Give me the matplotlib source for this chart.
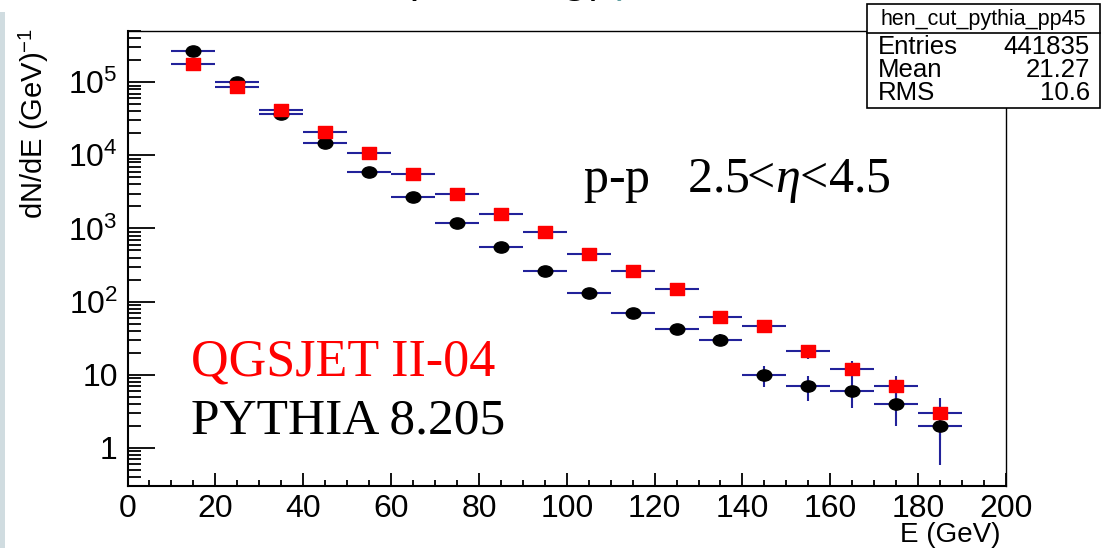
import numpy as np
import matplotlib
matplotlib.use("Agg")
import matplotlib.pyplot as plt
from matplotlib.path import Path
from matplotlib.patches import Rectangle
from matplotlib.ticker import FixedLocator, FixedFormatter, LogLocator, NullFormatter

plt.rcParams["font.family"] = ["Liberation Sans", "DejaVu Sans"]
plt.rcParams["mathtext.fontset"] = "custom"
plt.rcParams["mathtext.rm"] = "Liberation Sans"
plt.rcParams["mathtext.it"] = "Liberation Serif:italic"

# photon energy bins (GeV): centres of 10 GeV wide bins
energy = [15, 25, 35, 45, 55, 65, 75, 85, 95, 105, 115, 125, 135, 145, 155, 165, 175, 185]
bin_half_width = 5

pythia_counts = [2.7e5, 1.02e5, 3.7e4, 1.48e4, 5.9e3, 2.7e3, 1.17e3, 550, 265, 132,
                 69, 42, 30, 10, 7, 6, 4, 2]
qgsjet_counts = [1.78e5, 8.7e4, 4.2e4, 2.1e4, 1.07e4, 5.6e3, 2.95e3, 1.57e3, 890, 443,
                 265, 148, 62, 46, 21, 12, 7, 3]

y_major = [1, 10, 1e2, 1e3, 1e4, 1e5]
y_major_labels = ["1", "10", r"$\mathregular{10^{2}}$", r"$\mathregular{10^{3}}$",
                  r"$\mathregular{10^{4}}$", r"$\mathregular{10^{5}}$"]

W, H = 1103, 548
fig = plt.figure(figsize=(W / 100, H / 100), dpi=100)

# frame in pixel units
left, right, top, bottom = 127.5, 1006, 30.5, 486
ax = fig.add_axes([left / W, 1 - bottom / H, (right - left) / W, (bottom - top) / H])

# ellipse-ish circle and slightly wide square markers
circ = Path.unit_circle()
circ = Path(circ.vertices * np.array([1.3, 1.0]), circ.codes)
sq = Path([(-0.6, -0.5), (0.6, -0.5), (0.6, 0.5), (-0.6, 0.5), (-0.6, -0.5)],
          [Path.MOVETO, Path.LINETO, Path.LINETO, Path.LINETO, Path.CLOSEPOLY])

err_col = "#22229a"
for counts in (pythia_counts, qgsjet_counts):
    c = np.array(counts)
    ax.errorbar(energy, c, xerr=bin_half_width, yerr=np.sqrt(c), fmt="none",
                ecolor=err_col, elinewidth=1.5, capsize=0, zorder=2)

ax.plot(energy, pythia_counts, linestyle="none", marker=circ, markersize=10.5,
        color="black", zorder=3)
ax.plot(energy, qgsjet_counts, linestyle="none", marker=sq, markersize=10.5,
        color="#ff0000", zorder=4)

ax.set_yscale("log")
ax.set_xlim(0, 200)
ax.set_ylim(0.3, 5.1e5)

ax.xaxis.set_major_locator(FixedLocator(np.arange(0, 201, 20)))
ax.xaxis.set_minor_locator(FixedLocator(np.arange(0, 201, 5)))
ax.yaxis.set_major_locator(FixedLocator(y_major))
ax.yaxis.set_major_formatter(FixedFormatter(y_major_labels))
ax.yaxis.set_minor_locator(LogLocator(base=10, subs=np.arange(2, 10), numticks=20))
ax.yaxis.set_minor_formatter(NullFormatter())

ax.tick_params(axis="both", which="both", direction="in", top=False, right=False,
               width=1.3, color="black")
ax.tick_params(axis="x", which="major", length=9.5, pad=6, labelsize=23)
ax.tick_params(axis="x", which="minor", length=4.5)
ax.tick_params(axis="y", which="major", length=19.5, pad=7, labelsize=23)
ax.tick_params(axis="y", which="minor", length=9.5)
for s in ("left", "bottom"):
    ax.spines[s].set_linewidth(1.5)
for s in ("top", "right"):
    ax.spines[s].set_linewidth(1.0)

fig.text(1000 / W, 1 - 548 / H, "E (GeV)", ha="right", va="bottom", fontsize=20)
fig.text(34 / W, 1 - 28 / H, r"dN/dE (GeV)$^{\mathregular{-1}}$", rotation=90,
         ha="center", va="top", fontsize=21)

# model labels and kinematic range
fig.text(583 / W, 1 - 192 / H, r"p-p   2.5<$\eta$<4.5", family="Liberation Serif",
         fontsize=36, ha="left", va="baseline")
fig.text(191 / W, 1 - 375 / H, "QGSJET II-04", family="Liberation Serif",
         fontsize=37.5, color="#ff0000", ha="left", va="baseline")
fig.text(191 / W, 1 - 434 / H, "PYTHIA 8.205", family="Liberation Serif",
         fontsize=37, color="black", ha="left", va="baseline")

# stats box
bx0, bx1, by0, by1, bsep = 867, 1100, 4, 108, 33
fig.add_artist(Rectangle((bx0 / W, 1 - by1 / H), (bx1 - bx0) / W, (by1 - by0) / H,
                         transform=fig.transFigure, facecolor="white",
                         edgecolor="black", linewidth=1.2, zorder=10))
fig.add_artist(plt.Line2D([bx0 / W, bx1 / W], [1 - bsep / H, 1 - bsep / H],
                          transform=fig.transFigure, color="black", linewidth=1.2,
                          zorder=11))
fig.text((bx0 + bx1) / 2 / W, 1 - 25 / H, "hen_cut_pythia_pp45", ha="center",
         va="baseline", fontsize=15.5, zorder=12)
stats = [("Entries", "441835"), ("Mean", "21.27"), ("RMS", "10.6")]
for i, (k, v) in enumerate(stats):
    yb = 1 - (54 + 23 * i) / H
    fig.text((bx0 + 11) / W, yb, k, ha="left", va="baseline", fontsize=18.5, zorder=12)
    fig.text((bx1 - 10) / W, yb, v, ha="right", va="baseline", fontsize=18.5, zorder=12)

# slide decorations: left band and clipped heading
fig.add_artist(Rectangle((0, 0), 5 / W, 1 - 12 / H, transform=fig.transFigure,
                         facecolor="#d0dce0", edgecolor="none"))
fig.text(375 / W, 1 + 6 / H, "Input energy", ha="left", va="baseline", fontsize=30,
         family="Lato")
fig.text(612 / W, 1 + 6 / H, "y", ha="left", va="baseline", fontsize=30,
         family="Lato", color="#5f9ea0")

fig.savefig("out.png", dpi=100)
